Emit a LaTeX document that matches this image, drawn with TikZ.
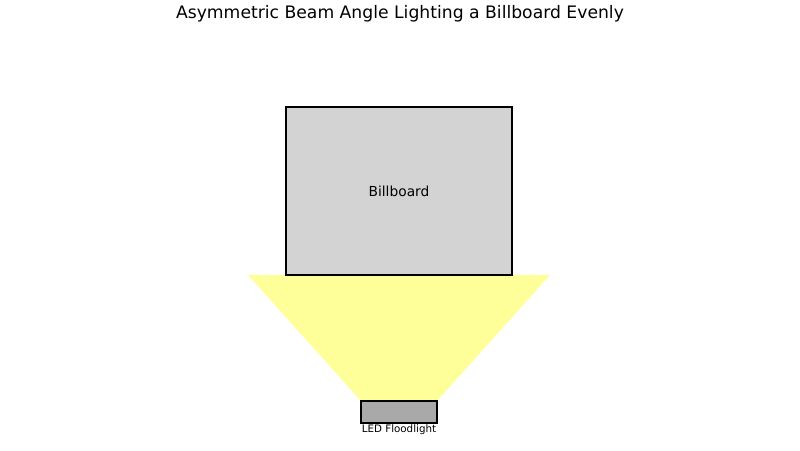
\documentclass[tikz,border=0pt]{standalone}
\usepackage{fontspec}
\setmainfont{DejaVu Sans}
\usetikzlibrary{positioning}
\definecolor{boardgray}{HTML}{D3D3D3}
\definecolor{lampgray}{HTML}{A9A9A9}
\definecolor{beamyellow}{HTML}{FFFF99}
\tikzset{box/.style={draw=black, line width=1.4pt, inner sep=0pt, outer sep=0pt}}
\begin{document}
\begin{tikzpicture}[x=1pt,y=1pt]
	\useasboundingbox (0,0) rectangle (800,450);
	\node (title) at (400,436) {\fontsize{17.2}{20}\selectfont Asymmetric Beam Angle Lighting a Billboard Evenly};
	% beam outline
	\coordinate (beamL) at (248,175);
	\coordinate (beamR) at (550,175);
	\coordinate (lamptop) at (399,49);
	\fill[beamyellow] (beamL) -- (beamR) -- ([xshift=38pt]lamptop) -- ([xshift=-38pt]lamptop) -- cycle;
	\node[box, fill=boardgray, minimum width=226pt, minimum height=168pt] (board) at (399,259) {\fontsize{13.8}{16}\selectfont Billboard};
	\node[box, fill=lampgray, minimum width=76pt, minimum height=22pt, below=0pt of lamptop] (lamp) {};
	\node[below=0pt of lamp, inner sep=1pt] (lamplabel) {\fontsize{10.3}{12}\selectfont LED Floodlight};
\end{tikzpicture}
\end{document}
